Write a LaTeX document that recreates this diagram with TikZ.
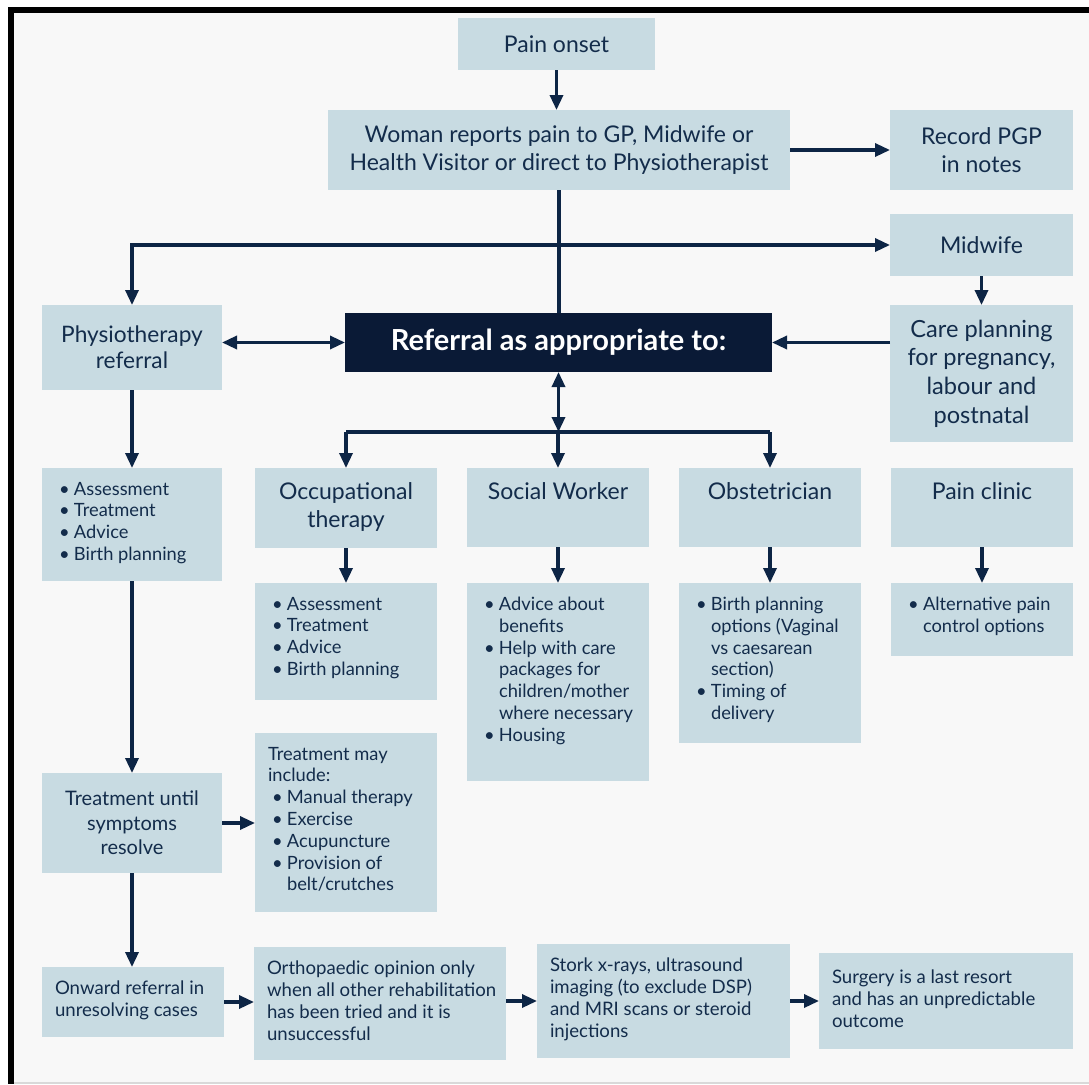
\documentclass[tikz,border=0pt]{standalone}
\usepackage{fontspec}
\setmainfont{Lato}
\usetikzlibrary{arrows.meta,calc}
\definecolor{boxfill}{HTML}{C8DBE2}
\definecolor{navy}{HTML}{132C4B}
\definecolor{linecol}{HTML}{0D2545}
\definecolor{deep}{HTML}{0A1A36}
\definecolor{bgcol}{HTML}{F8F8F8}
\setlength\parindent{0pt}
\newcommand\tfont{\fontsize{23}{28}\selectfont}
\newcommand\sfont{\fontsize{18.3}{21.8}\selectfont}
\newcommand\bfont{\fontsize{18.6}{22}\selectfont}
% text centred both ways in a W x H box
\newcommand\cbox[4]{\parbox[c][#2pt][c]{#1pt}{#3\centering #4\par}}
% text centred, hung from the top of a W x H box
\newcommand\tcbox[5]{\parbox[c][#2pt][t]{#1pt}{#3\vspace*{#4pt}\centering #5\par}}
% text set left, hung from the top of a W x H box
\newcommand\lbox[5]{\parbox[c][#2pt][t]{#1pt}{#3\vspace*{#4pt}\raggedright\leftskip=13pt #5\par}}
% bullet item with hanging indent (break lines inside it with \newline)
\newcommand\itm{\par\hangindent=19pt\hangafter=1\makebox[19pt][l]{\hspace{4pt}\textbullet}}
\tikzset{
  box/.style={fill=boxfill, inner sep=0pt, outer sep=0pt, text=navy, anchor=north west},
  darkbox/.style={fill=deep, inner sep=0pt, outer sep=0pt, text=white, anchor=north west},
  link/.style={draw=linecol, line width=3.3pt},
  arr/.style={link, -{Triangle[length=15pt,width=13pt]}},
  dbl/.style={link, {Triangle[length=15pt,width=13pt]}-{Triangle[length=15pt,width=13pt]}},
}
\begin{document}
\begin{tikzpicture}[x=1pt,y=-1pt]
\useasboundingbox (0,0) rectangle (1089,1084);
% page and frame
\fill[white] (0,0) rectangle (1089,1084);
\fill[bgcol] (8,7) rectangle (1089,1084);
\fill[black] (8,7) rectangle (1089,13);
\fill[black] (8,7) rectangle (14,1084);
\fill[black!15] (14,1081.5) rectangle (1089,1084);

% top of the pathway
\node[box] (onset) at (458,18) {\cbox{197}{52}{\tfont}{Pain onset}};
\node[box] (woman) at (328,110) {\cbox{462}{80}{\tfont}{Woman reports pain to GP, Midwife or\\Health Visitor or direct to Physiotherapist}};
\node[box] (record) at (890,110) {\cbox{183}{80}{\tfont}{Record PGP\\in notes}};
\node[box] (midwife) at (890,214) {\cbox{183}{62}{\tfont}{Midwife}};
\node[box] (physio) at (42,305) {\cbox{180}{85}{\fontsize{22.7}{26}\selectfont}{Physiotherapy\\referral}};
\node[darkbox] (ref) at (345,313) {\cbox{427}{59}{\fontsize{29}{32}\selectfont\bfseries}{Referral as appropriate to:}};
\node[box] (care) at (890,305) {\cbox{183}{137}{\fontsize{23.6}{28.7}\selectfont}{Care planning\\for pregnancy,\\labour and\\postnatal}};

% services
\node[box] (pbul) at (42,468) {\lbox{180}{113}{\sfont}{14}{\itm Assessment \itm Treatment \itm Advice \itm Birth planning}};
\node[box] (ot) at (255,468) {\tcbox{182}{80}{\tfont}{15}{Occupational\\therapy}};
\node[box] (sw) at (467,468) {\tcbox{182}{79}{\tfont}{15}{Social Worker}};
\node[box] (ob) at (679,468) {\tcbox{182}{79}{\tfont}{15}{Obstetrician}};
\node[box] (pc) at (891,468) {\tcbox{182}{79}{\tfont}{15}{Pain clinic}};

\node[box] (otb) at (255,583) {\lbox{182}{117}{\sfont}{14}{\itm Assessment \itm Treatment \itm Advice \itm Birth planning}};
\node[box] (swb) at (467,583) {\lbox{182}{198}{\sfont}{14}{\itm Advice about\newline benefits \itm Help with care\newline packages for\newline children/mother\newline where necessary \itm Housing}};
\node[box] (obb) at (679,583) {\lbox{182}{160}{\sfont}{14}{\itm Birth planning\newline options (Vaginal\newline vs caesarean\newline section) \itm Timing of\newline delivery}};
\node[box] (pcb) at (891,583) {\lbox{182}{73}{\sfont}{14}{\itm Alternative pain\newline control options}};

% treatment and onward referral
\node[box] (tr) at (42,773) {\cbox{180}{100}{\fontsize{20}{24.5}\selectfont}{Treatment until\\symptoms\\resolve}};
\node[box] (trm) at (255,733) {\lbox{182}{179}{\sfont}{14}{Treatment may\\include: \itm Manual therapy \itm Exercise \itm Acupuncture \itm Provision of\newline belt/crutches}};
\node[box] (onw) at (42,967) {\lbox{182}{70}{\bfont}{14}{Onward referral in\\unresolving cases}};
\node[box] (ortho) at (254,947) {\lbox{252}{113}{\bfont}{14}{Orthopaedic opinion only\\when all other rehabilitation\\has been tried and it is\\unsuccessful}};
\node[box] (stork) at (537,944) {\lbox{253}{114}{\bfont}{14}{Stork x-rays, ultrasound\\imaging (to exclude DSP)\\and MRI scans or steroid\\injections}};
\node[box] (surg) at (819,953) {\lbox{254}{96}{\bfont}{17}{Surgery is a last resort\\and has an unpredictable\\outcome}};

% connectors
\draw[arr] (onset.south) -- (onset.south |- woman.north);
\draw[arr] (woman.east) -- (record.west);
\draw[link] (woman.south) -- (woman.south |- ref.north);
\draw[dbl] (physio.north) |- (midwife.west);
\draw[arr] (midwife.south) -- (care.north);
\draw[arr] (care.west |- ref.east) -- (ref.east);
\draw[dbl] (physio.east |- ref.west) -- (ref.west);
\coordinate (js) at ($(ref.south)+(0,60)$);
\draw[dbl] (ref.south) -- (js);
\draw[link] (js -| ot.north) -- (js -| ob.north);
\draw[arr] (js -| ot.north) -- (ot.north);
\draw[arr] (js -| sw.north) -- (sw.north);
\draw[arr] (js -| ob.north) -- (ob.north);
\draw[arr] (physio.south) -- (pbul.north);
\draw[arr] (ot.south) -- (otb.north);
\draw[arr] (sw.south) -- (swb.north);
\draw[arr] (ob.south) -- (obb.north);
\draw[arr] (pc.south) -- (pcb.north);
\draw[arr] (pbul.south) -- (pbul.south |- tr.north);
\draw[arr] (tr.east) -- (tr.east -| trm.west);
\draw[arr] (tr.south) -- (tr.south |- onw.north);
\draw[arr] (onw.east) -- (onw.east -| ortho.west);
\draw[arr] (ortho.east |- stork.east) -- (stork.west);
\draw[arr] (stork.east) -- (stork.east -| surg.west);
\end{tikzpicture}
\end{document}
